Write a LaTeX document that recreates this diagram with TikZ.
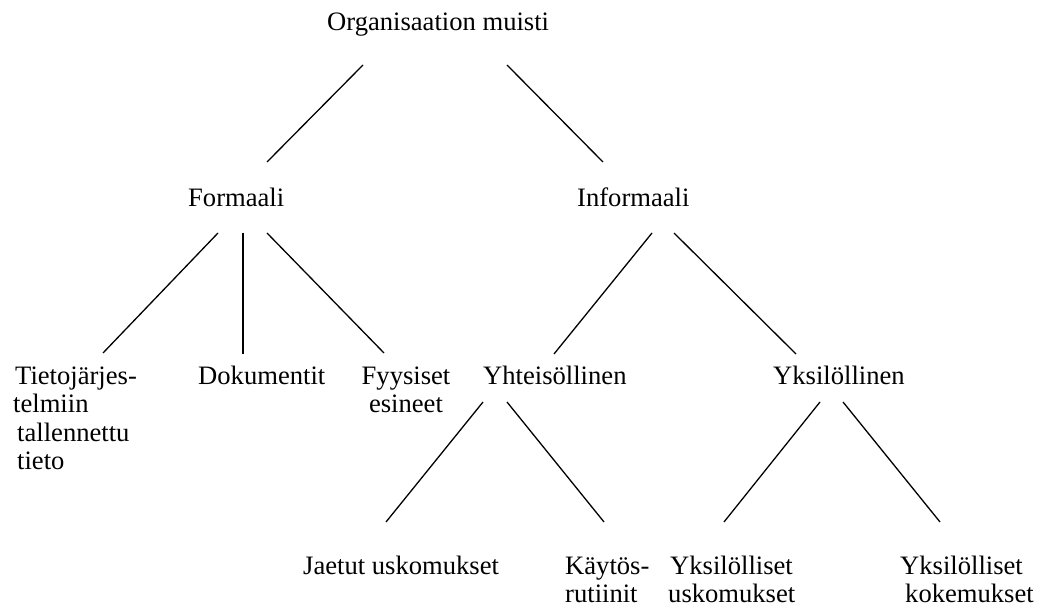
\documentclass[tikz,border=0pt]{standalone}
\usepackage{fontspec}
\setmainfont{Liberation Serif}
\begin{document}
\begin{tikzpicture}[x=1pt,y=-1pt,
  lbl/.style={anchor=base west,inner sep=0pt,font=\fontsize{26.6}{28}\selectfont},
  lblc/.style={anchor=base,inner sep=0pt,font=\fontsize{26.6}{28}\selectfont},
  conn/.style={line width=1.3pt}]
\useasboundingbox (0,0) rectangle (1037,609);
% labels
\node[lbl] (root) at (327,31) {Organisaation muisti};
\node[lbl] (formaali) at (188,207) {Formaali};
\node[lbl] (informaali) at (577,207) {Informaali};
\node[lbl] (tj1) at (15,385) {Tietojärjes-};
\node[lbl] (tj2) at (13,413) {telmiin};
\node[lbl] (tj3) at (17,442) {tallennettu};
\node[lbl] (tj4) at (17,470) {tieto};
\node[lbl] (dok) at (198,385) {Dokumentit};
\node[lblc] (fy1) at (406,385) {Fyysiset};
\node[lblc] (fy2) at (406,413) {esineet};
\node[lbl] (yht) at (483,385) {Yhteisöllinen};
\node[lbl] (yks) at (773,385) {Yksilöllinen};
\node[lbl] (jaetut) at (303,575) {Jaetut uskomukset};
\node[lbl] (ka1) at (565,575) {Käytös-};
\node[lbl] (ka2) at (565,602) {rutiinit};
\node[lbl] (yu1) at (670,575) {Yksilölliset};
\node[lbl] (yu2) at (668,602) {uskomukset};
\node[lbl] (yk1) at (900,575) {Yksilölliset};
\node[lbl] (yk2) at (905,602) {kokemukset};
% connector end points
\coordinate (root-l) at (363,65);
\coordinate (root-r) at (507,65);
\coordinate (form-t) at (267,162);
\coordinate (inf-t) at (603,162);
\coordinate (form-l) at (218,233);
\coordinate (form-m) at (243,233);
\coordinate (form-r) at (267,233);
\coordinate (tj-t) at (103,353);
\coordinate (dok-t) at (243,354);
\coordinate (fy-t) at (384,353);
\coordinate (inf-l) at (652,233);
\coordinate (inf-r) at (674,233);
\coordinate (yht-t) at (554,354);
\coordinate (yks-t) at (796,354);
\coordinate (yht-l) at (483,402);
\coordinate (yht-r) at (507,402);
\coordinate (yks-l) at (820,402);
\coordinate (yks-r) at (843,402);
\coordinate (jaetut-t) at (386,522);
\coordinate (ka-t) at (604,522);
\coordinate (yu-t) at (724,522);
\coordinate (yk-t) at (940,522);
% connectors
\draw[conn] (root-l) -- (form-t);
\draw[conn] (root-r) -- (inf-t);
\draw[conn] (form-l) -- (tj-t);
\draw[conn] (form-m) -- (dok-t);
\draw[conn] (form-r) -- (fy-t);
\draw[conn] (inf-l) -- (yht-t);
\draw[conn] (inf-r) -- (yks-t);
\draw[conn] (yht-l) -- (jaetut-t);
\draw[conn] (yht-r) -- (ka-t);
\draw[conn] (yks-l) -- (yu-t);
\draw[conn] (yks-r) -- (yk-t);
\end{tikzpicture}
\end{document}
